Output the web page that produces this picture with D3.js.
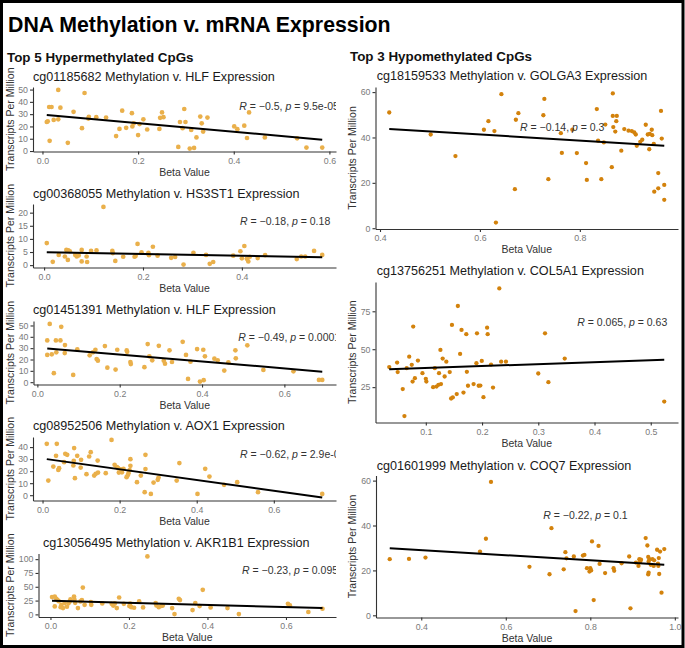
<!DOCTYPE html>
<html><head><meta charset="utf-8">
<script src="https://cdn.jsdelivr.net/npm/d3@7"></script>
<style>
body{margin:0;background:#fff}
svg{display:block}
text{font-family:"Liberation Sans",Arial,Helvetica,sans-serif}
</style>
</head><body>
<svg id="chart" width="685" height="648"></svg>
<script>
// ---------------- DATA ----------------
const mainTitle = "DNA Methylation v. mRNA Expression";
const leftHeading = "Top 5 Hypermethylated CpGs";
const rightHeading = "Top 3 Hypomethylated CpGs";
const xAxisTitle = "Beta Value";
const yAxisTitle = "Transcripts Per Million";

const panelTitles = [
  "cg01185682 Methylation v. HLF Expression",
  "cg00368055 Methylation v. HS3ST1 Expression",
  "cg01451391 Methylation v. HLF Expression",
  "cg08952506 Methylation v. AOX1 Expression",
  "cg13056495 Methylation v. AKR1B1 Expression",
  "cg18159533 Methylation v. GOLGA3 Expression",
  "cg13756251 Methylation v. COL5A1 Expression",
  "cg01601999 Methylation v. COQ7 Expression"
];
const corrR = ["\u22120.5", "\u22120.18", "\u22120.49", "\u22120.62", "\u22120.23", "\u22120.14", "0.065", "\u22120.22"];
const corrP = ["9.5e-05", "0.18", "0.00011", "2.9e-07", "0.095", "0.3", "0.63", "0.1"];

// panel 1: cg01185682 / HLF
const p1Beta = [0.009,0.011,0.014,0.019,0.033,0.0375,0.0235,0.033,0.015,0.053,0.065,0.088,0.0826,0.096,0.097,0.1125,0.133,0.154,0.161,0.1667,0.175,0.187,0.188,0.191,0.2,0.203,0.211,0.219,0.2445,0.246,0.25,0.253,0.284,0.2875,0.2965,0.299,0.293,0.308,0.317,0.311,0.322,0.33,0.333,0.336,0.345,0.401,0.4075,0.422,0.4277,0.432,0.465,0.5325,0.552,0.585];
const p1Tpm  = [23.6,24.2,35.8,35.8,49.7,35.3,25.3,25.8,8.3,6.7,31.9,47.2,18.6,26.4,27.8,27.5,27.2,12.2,18,32.8,18.9,30.8,20,22.5,13,21.9,25.8,17.5,18,27,31.4,27.5,3.3,23.6,34.2,23.6,18.6,2,2.5,17.2,11.1,28,22.5,15.8,27.2,20,17.8,20.6,10.6,31.4,11.1,10.3,2.8,2.8];
const p1Fit  = [29.3, 9.2];

// panel 2: cg00368055 / HS3ST1
const p2Beta = [0.0054,0.0175,0.0296,0.042,0.045,0.049,0.052,0.048,0.063,0.066,0.07,0.076,0.076,0.086,0.087,0.095,0.106,0.12,0.138,0.139,0.144,0.16,0.183,0.185,0.189,0.197,0.211,0.212,0.22,0.2295,0.257,0.265,0.282,0.302,0.3275,0.335,0.342,0.3825,0.397,0.405,0.4,0.41,0.413,0.416,0.432,0.447,0.511,0.52,0.528,0.546,0.5625];
const p2Tpm  = [8.4,1.25,3.9,3.3,5.8,5.6,5.3,2.0,3.9,3.3,3.7,5.8,1.4,3.3,1.2,5.4,5.6,22.2,5.4,4.6,1.6,3.2,3.2,3.5,8.1,4.9,4.7,3.8,7.0,3.6,2.8,3.1,0.2,4.7,3.9,0.5,1.2,3.6,5.3,7.3,2.6,2.4,1.4,3.2,2.7,3.8,2.3,3.3,3.3,5.4,3.9];
const p2Fit  = [4.9, 3.0];

// panel 3: cg01451391 / HLF
const p3Beta = [0.024,0.024,0.03,0.035,0.04,0.045,0.046,0.056,0.058,0.067,0.0665,0.087,0.097,0.127,0.135,0.141,0.144,0.147,0.164,0.17,0.19,0.194,0.217,0.218,0.226,0.227,0.26,0.268,0.272,0.279,0.295,0.307,0.31,0.321,0.327,0.353,0.361,0.366,0.372,0.388,0.395,0.404,0.403,0.407,0.43,0.438,0.454,0.464,0.481,0.482,0.51,0.549,0.622,0.684,0.692];
const p3Tpm  = [24,36.8,51.4,24.6,7.9,36.8,26.3,36.8,48.8,32.7,25.7,6.4,28.9,23.7,26.3,28.6,20.4,19,31.8,12.8,11.1,28.6,28,26.8,17.8,16,13.2,33.6,22.8,19.3,32.1,19,16.3,28.1,17.8,35.6,24,2.9,18.1,29.2,0.5,1.8,28.6,22.8,20.7,19.3,10.2,17.5,28.1,21,32.5,10.8,9.6,2,2];
const p3Fit  = [29.8, 9.3];

// panel 4: cg08952506 / AOX1
const p4Beta = [0.011,0.015,0.028,0.037,0.035,0.041,0.043,0.056,0.059,0.064,0.08,0.081,0.082,0.084,0.09,0.099,0.1,0.114,0.121,0.125,0.134,0.138,0.143,0.144,0.164,0.179,0.187,0.193,0.196,0.198,0.203,0.206,0.21,0.218,0.221,0.228,0.228,0.226,0.223,0.245,0.255,0.265,0.267,0.267,0.281,0.288,0.301,0.299,0.348,0.355,0.402,0.422,0.433,0.471,0.505,0.559,0.7256];
const p4Tpm  = [42.75,12.2,23.8,42.75,32.75,21,22.5,27.5,34.4,33.6,24.7,28.6,39.2,14.2,32.75,23,29.4,17.5,32.2,35.8,16.3,17.75,28.8,18.8,18.3,46,25.25,23.3,22.5,18.8,21.5,19,22,15,16.5,30,24.4,20.8,18.3,10.8,16.3,2.5,33.6,21.7,1.1,10.5,14.7,12.75,12.2,26.7,1.1,21.9,15.5,8.6,10.8,2.5,1.1];
const p4Fit  = [30, -2];

// panel 5: cg13056495 / AKR1B1
const p5Beta = [0.004,0.011,0.015,0.011,0.018,0.021,0.028,0.026,0.032,0.036,0.042,0.046,0.049,0.051,0.06,0.061,0.063,0.07,0.0765,0.08,0.0825,0.087,0.103,0.104,0.132,0.156,0.16,0.164,0.169,0.175,0.187,0.201,0.203,0.206,0.213,0.226,0.236,0.247,0.268,0.27,0.276,0.283,0.286,0.31,0.316,0.327,0.33,0.362,0.369,0.38,0.388,0.408,0.451,0.48,0.605,0.61,0.657,0.693];
const p5Tpm  = [31.3,32.4,28.2,14.4,26,24,17.4,13,11.5,20.5,13.8,20,23.5,27,32.4,27,21,11.5,23.4,26,48.6,17.4,22.3,17.4,19.8,19.2,16,19.8,11.5,30.6,19.2,15,19.5,13,12,23.4,12.6,105,20.5,16.2,13,15.5,16,11.5,0.5,28.2,26,7.9,20.5,15,44.4,12.6,11.5,0.5,19.2,16.2,4.3,10.2];
const p5Fit  = [24.6, 11.5];

// panel 6: cg18159533 / GOLGA3
const p6Beta = [0.4185,0.5015,0.551,0.608,0.617,0.629,0.632,0.643,0.67,0.672,0.677,0.727,0.729,0.737,0.762,0.764,0.785,0.794,0.8125,0.814,0.834,0.8365,0.843,0.848,0.851,0.864,0.866,0.866,0.874,0.867,0.871,0.873,0.883,0.889,0.8975,0.904,0.909,0.912,0.914,0.921,0.925,0.932,0.936,0.94,0.939,0.944,0.945,0.948,0.949,0.957,0.957,0.9625,0.964,0.969,0.969];
const p6Tpm  = [51,41.3,31.8,43.4,47.2,42.8,2.5,59.1,17.2,47.8,50.7,49.8,57,21.6,41.9,33.2,43.4,33.1,28.7,21.3,52.5,38.6,21.6,37.8,45.7,26.9,59.4,49.5,49.5,44.6,42.6,47.2,34.2,43.7,43,42.8,42.2,41.3,36.3,38.1,39,45.6,41.3,41.6,34.8,43.4,41,37.2,16.1,24.3,17.6,51.7,39.5,19.1,12.5];
const p6Fit  = [43.7, 36.4];

// panel 7: cg13756251 / COL5A1
const p7Beta = [0.035,0.049,0.05,0.059,0.062,0.066,0.0705,0.075,0.0765,0.0776,0.0806,0.086,0.094,0.1,0.101,0.113,0.119,0.116,0.1225,0.1235,0.126,0.127,0.13,0.1335,0.1365,0.1425,0.145,0.148,0.1465,0.155,0.157,0.161,0.1635,0.167,0.172,0.173,0.175,0.185,0.19,0.191,0.194,0.197,0.1995,0.2025,0.209,0.21,0.216,0.2195,0.2307,0.234,0.2425,0.3,0.312,0.318,0.347,0.524];
const p7Tpm  = [38.2,41.2,34.9,23.7,5.9,37.5,45.1,39.7,28.7,64.9,30.9,42.5,34.2,30.5,28.7,25,25.4,37.5,26.5,34.2,49.5,27,43.8,32,41.8,34.9,17.5,18.2,66,20.4,78.5,46.9,62.7,21.4,59.9,35.1,25.9,27,40.8,60.5,25.9,26,42.3,18.4,64.2,59.9,39.9,24.7,90.1,41.8,41.8,34,60.5,28.3,43.8,15.5];
const p7Fit  = [36.8, 43.0];

// panel 8: cg01601999 / COQ7
const p8Beta = [0.3254,0.371,0.41,0.539,0.553,0.565,0.656,0.7035,0.708,0.737,0.741,0.7435,0.761,0.765,0.7825,0.786,0.792,0.8,0.798,0.802,0.804,0.808,0.8195,0.822,0.835,0.855,0.8565,0.874,0.892,0.895,0.908,0.914,0.916,0.918,0.92,0.931,0.935,0.937,0.938,0.94,0.937,0.938,0.943,0.947,0.95,0.951,0.958,0.96,0.961,0.962,0.963,0.965,0.9685,0.975];
const p8Tpm  = [25,25.1,25.7,28.4,34.1,59.4,21.6,18.3,38.8,20.5,28.1,25.4,26.2,1.9,26.6,26.9,21,21,19.5,20,32.9,6.8,30.9,22.9,18.8,21,19.8,23.2,26.2,3.1,23.5,22,25,24,24.8,34.4,31.1,26,24,25,18.2,19,22.5,25,22,24.5,29.2,23,22,25.5,18.4,28.4,10.1,29.5];
const p8Fit  = [29.9, 22.5];

const xTickSets = [[0,0.2,0.4,0.6],[0,0.2,0.4],[0,0.2,0.4,0.6],[0,0.2,0.4,0.6],[0,0.2,0.4,0.6],[0.4,0.6,0.8],[0.1,0.2,0.3,0.4,0.5],[0.4,0.6,0.8,1.0]];
const yTickSets = [[0,10,20,30,40,50],[0,5,10,15,20],[0,10,20,30,40,50],[0,10,20,30,40],[0,25,50,75,100],[0,20,40,60],[25,50,75],[0,20,40,60]];

// ---------------- LAYOUT ----------------
const hyperColor = "#EAB04B";
const hypoColor  = "#D3820C";
const layout = [
  {l:33,  r:336, t:87,    b:151.5, titleX:33,    titleY:80.5,  annX:239.3, annY:109.5, yTitleX:14},
  {l:33,  r:336, t:204,   b:267.5, titleX:33,    titleY:198,   annX:240,   annY:224.5, yTitleX:14},
  {l:33.5,r:336, t:321,   b:384.5, titleX:33,    titleY:313.5, annX:238.3, annY:341,   yTitleX:14},
  {l:33,  r:336, t:437,   b:500.5, titleX:33,    titleY:430,   annX:240,   annY:457.8, yTitleX:14},
  {l:38.5,r:336, t:553.5, b:617,   titleX:43,    titleY:546.5, annX:242,   annY:574.3, yTitleX:14},
  {l:375.5,r:678,t:87,    b:229,   titleX:376.7, titleY:79.5,  annX:520,   annY:130.7, yTitleX:355.7},
  {l:375.5,r:678,t:282,   b:422.5, titleX:376.7, titleY:275,   annX:577.3, annY:326,   yTitleX:355.7},
  {l:376, r:678, t:475.5, b:617.5, titleX:376.7, titleY:469.5, annX:543.3, annY:519,   yTitleX:355.7}
];
const betas = [p1Beta,p2Beta,p3Beta,p4Beta,p5Beta,p6Beta,p7Beta,p8Beta];
const tpms  = [p1Tpm,p2Tpm,p3Tpm,p4Tpm,p5Tpm,p6Tpm,p7Tpm,p8Tpm];
const fits  = [p1Fit,p2Fit,p3Fit,p4Fit,p5Fit,p6Fit,p7Fit,p8Fit];

// ---------------- DRAW ----------------
const svg = d3.select("#chart");
svg.append("rect").attr("width",685).attr("height",648).attr("fill","#fff");
const defs = svg.append("defs");

svg.append("text").attr("x",8).attr("y",31.5).attr("font-size",21.3).attr("font-weight","bold").attr("fill","#000").text(mainTitle);
svg.append("text").attr("x",7).attr("y",61.5).attr("font-size",13.4).attr("font-weight","bold").attr("fill","#111").text(leftHeading);
svg.append("text").attr("x",350).attr("y",61).attr("font-size",13.4).attr("font-weight","bold").attr("fill","#111").text(rightHeading);

function padExtent(arr){
  const [a,b] = d3.extent(arr); const m = (b-a)*0.05; return [a-m, b+m];
}

layout.forEach((L, i) => {
  const beta = betas[i], tpm = tpms[i], fit = fits[i];
  const color = i < 5 ? hyperColor : hypoColor;
  const rad = i < 5 ? 2.35 : 2.15;
  const x = d3.scaleLinear().domain(padExtent(beta)).range([L.l, L.r]);
  const y = d3.scaleLinear().domain(padExtent(tpm.concat(fit))).range([L.b, L.t]);
  const g = svg.append("g");

  g.append("text").attr("x",L.titleX).attr("y",L.titleY).attr("font-size",12.6).attr("fill","#1a1a1a").text(panelTitles[i]);

  const cid = "clip"+i;
  defs.append("clipPath").attr("id",cid).append("rect").attr("x",L.l).attr("y",L.t).attr("width",L.r-L.l).attr("height",L.b-L.t);
  const pg = g.append("g").attr("clip-path",`url(#${cid})`);

  pg.selectAll("circle").data(beta.map((b,k)=>[b,tpm[k]])).join("circle")
    .attr("cx",d=>x(d[0])).attr("cy",d=>y(d[1])).attr("r",rad).attr("fill",color);

  const [bx0,bx1] = d3.extent(beta);
  pg.append("line").attr("x1",x(bx0)).attr("y1",y(fit[0])).attr("x2",x(bx1)).attr("y2",y(fit[1]))
    .attr("stroke","#000").attr("stroke-width",2);

  const ann = pg.append("text").attr("x",L.annX).attr("y",L.annY).attr("font-size",10.5).attr("fill","#333");
  ann.append("tspan").attr("font-style","italic").text("R");
  ann.append("tspan").text(" = " + corrR[i] + ", ");
  ann.append("tspan").attr("font-style","italic").text("p");
  ann.append("tspan").text(" = " + corrP[i]);

  const xa = g.append("g").attr("transform",`translate(0,${L.b})`)
    .call(d3.axisBottom(x).tickValues(xTickSets[i]).tickFormat(d3.format(".1f")).tickSizeInner(3).tickSizeOuter(0).tickPadding(3));
  const ya = g.append("g").attr("transform",`translate(${L.l},0)`)
    .call(d3.axisLeft(y).tickValues(yTickSets[i]).tickFormat(d3.format("d")).tickSizeInner(3).tickSizeOuter(0).tickPadding(2));
  [xa,ya].forEach(a=>{
    a.select(".domain").attr("stroke","#333").attr("stroke-width",1.1);
    a.selectAll(".tick line").attr("stroke","#333").attr("stroke-width",1.1);
    a.selectAll(".tick text").attr("fill","#7a7a7a").attr("font-size",8.8)
      .attr("font-family","Liberation Sans, Arial, sans-serif");
  });

  g.append("text").attr("x",(L.l+L.r)/2).attr("y",L.b+24).attr("text-anchor","middle")
    .attr("font-size",10.5).attr("fill","#333").text(xAxisTitle);
  g.append("text").attr("transform",`translate(${L.yTitleX},${(L.t+L.b)/2}) rotate(-90)`)
    .attr("text-anchor","middle").attr("font-size",10.5).attr("fill","#333").text(yAxisTitle);
});

svg.append("rect").attr("x",1.5).attr("y",1.5).attr("width",681.5).attr("height",645)
  .attr("fill","none").attr("stroke","#000").attr("stroke-width",3);
</script>
</body></html>
